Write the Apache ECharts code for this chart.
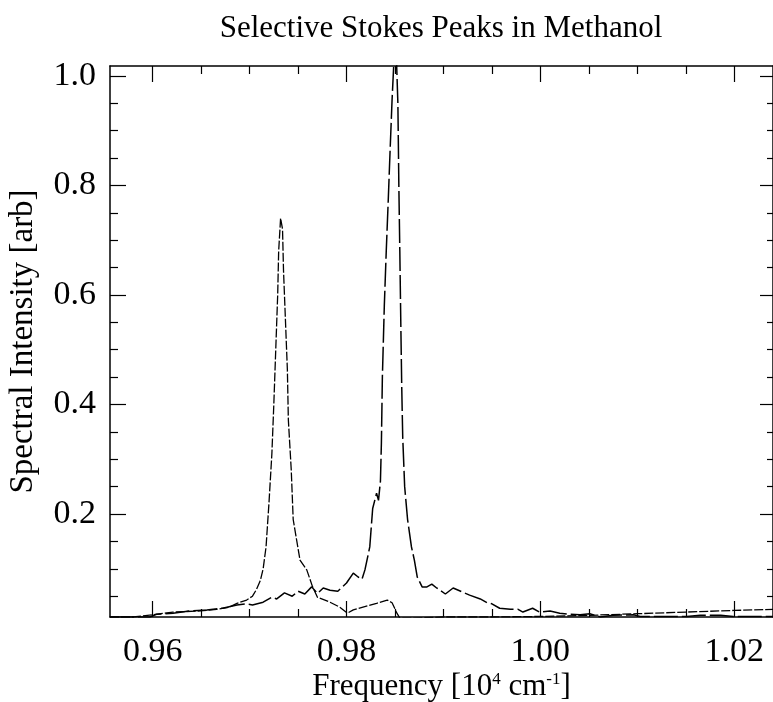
<!DOCTYPE html>
<html lang="en">

<head>
  <meta charset="UTF-8">
  <title>Selective Stokes Peaks in Methanol</title>
  <script src="https://cdn.jsdelivr.net/npm/echarts@6/dist/echarts.min.js"></script>
  <style>
    body { margin: 0; background: #fff; }
  </style>
</head>

<body>
  <div id="main" style="width: 773px;height:702px;"></div>

  <script>
    // left peak (short dashes)
    let freqA = [0.9556, 0.9580, 0.9600, 0.9621, 0.9649, 0.9666, 0.9679, 0.9687, 0.9697, 0.9703, 0.9707, 0.9711,
      0.9714, 0.9717, 0.9720, 0.9723, 0.9725, 0.9727, 0.9729, 0.9730, 0.9732, 0.9734, 0.9735, 0.9737, 0.9739,
      0.9740, 0.9743, 0.9745, 0.9752, 0.9759, 0.9765, 0.9770, 0.9783, 0.9793, 0.9801, 0.9807, 0.9817, 0.9831,
      0.9842, 0.9847, 0.9852, 0.9855, 0.9870, 0.9900, 0.9950, 1.0000, 1.0050, 1.0100, 1.0150, 1.0200, 1.0240];
    let intA = [0.012, 0.012, 0.016, 0.021, 0.023, 0.026, 0.030, 0.037, 0.043, 0.050, 0.062, 0.078,
      0.10, 0.14, 0.22, 0.31, 0.40, 0.50, 0.60, 0.68, 0.74, 0.72, 0.645, 0.554, 0.463,
      0.372, 0.28, 0.19, 0.116, 0.098, 0.067, 0.048, 0.039, 0.030, 0.019, 0.025, 0.030, 0.037,
      0.043, 0.038, 0.019, 0.010, 0.010, 0.012, 0.012, 0.013, 0.015, 0.018, 0.021, 0.024, 0.026];

    // right peak (long dashes)
    let freqB = [0.9556, 0.9597, 0.9604, 0.9621, 0.9638, 0.9656, 0.9672, 0.9687, 0.9697, 0.9703, 0.9714, 0.9723,
      0.9728, 0.9736, 0.9744, 0.9750, 0.9757, 0.9764, 0.9770, 0.9776, 0.9783, 0.9791, 0.9800, 0.9807, 0.9812,
      0.9816, 0.9819, 0.9824, 0.9827, 0.9831, 0.9833, 0.9835, 0.9836, 0.9837, 0.9839, 0.9841, 0.9843, 0.9845,
      0.9847, 0.9849, 0.9851, 0.9853, 0.9854, 0.9855, 0.9856, 0.9857, 0.9858, 0.9860, 0.9863, 0.9867, 0.9870,
      0.9873, 0.9878, 0.9883, 0.9888, 0.9893, 0.9902, 0.9910, 0.9919, 0.9927, 0.9938, 0.9945, 0.9950, 0.9958,
      0.9969, 0.9977, 0.9982, 0.9992, 0.9999, 1.0010, 1.0020, 1.0031, 1.0041, 1.0051, 1.0062, 1.0075, 1.0096,
      1.0103, 1.0131, 1.0151, 1.0165, 1.0186, 1.0199, 1.0240];
    let intB = [0.012, 0.012, 0.017, 0.019, 0.023, 0.025, 0.028, 0.034, 0.036, 0.034, 0.039, 0.048,
      0.045, 0.056, 0.050, 0.059, 0.054, 0.067, 0.055, 0.065, 0.061, 0.059, 0.074, 0.092, 0.085,
      0.081, 0.098, 0.14, 0.21, 0.238, 0.225, 0.26, 0.33, 0.45, 0.58, 0.68, 0.77, 0.865,
      0.956, 1.03, 1.06, 0.95, 0.80, 0.68, 0.55, 0.43, 0.34, 0.25, 0.19, 0.14, 0.116,
      0.085, 0.067, 0.067, 0.072, 0.065, 0.054, 0.065, 0.058, 0.052, 0.045, 0.038, 0.036, 0.028,
      0.026, 0.026, 0.021, 0.028, 0.021, 0.023, 0.019, 0.017, 0.016, 0.018, 0.012, 0.015, 0.016,
      0.013, 0.013, 0.013, 0.015, 0.015, 0.013, 0.013];

    let xMajor = [0.96, 0.98, 1.00, 1.02];
    let xMinor = [0.965, 0.97, 0.975, 0.985, 0.99, 0.995, 1.005, 1.01, 1.015];
    let yMajor = [0.2, 0.4, 0.6, 0.8, 1.0];
    let yMinor = [0.05, 0.1, 0.15, 0.25, 0.3, 0.35, 0.45, 0.5, 0.55, 0.65, 0.7, 0.75, 0.85, 0.9, 0.95];

    let serif = 'Liberation Serif';
    let black = '#000';

    function pairs(xs, ys) {
      return xs.map(function (x, i) { return [x, ys[i]]; });
    }

    function tickAxis(pos, vals, len, showLine, isX) {
      let ax = {
        type: 'value',
        position: pos,
        min: isX ? 0.9556 : 0.012,
        max: isX ? 1.024 : 1.018,
        axisLine: { show: showLine, lineStyle: { color: black, width: 1.5 } },
        axisTick: { show: true, inside: true, length: len, customValues: vals, lineStyle: { color: black, width: 1.2 } },
        axisLabel: { show: false },
        splitLine: { show: false }
      };
      return ax;
    }

    var myChart = echarts.init(document.getElementById('main'));

    let xMain = tickAxis('bottom', xMajor, 16, true, true);
    xMain.axisLabel = {
      show: true,
      customValues: xMajor,
      margin: 18,
      color: black,
      fontFamily: serif,
      fontSize: 34,
      formatter: function (v) { return v.toFixed(2); }
    };
    xMain.name = 'Frequency [10{sup|4} cm{sup|-1}]';
    xMain.nameLocation = 'middle';
    xMain.nameGap = 54;
    xMain.nameMoveOverlap = false;
    xMain.nameTextStyle = {
      color: black,
      fontFamily: serif,
      fontSize: 31,
      rich: {
        sup: { fontFamily: serif, fontSize: 17, verticalAlign: 'top', color: black }
      }
    };

    let yMain = tickAxis('left', yMajor, 16, true, false);
    yMain.axisLabel = {
      show: true,
      customValues: yMajor,
      margin: 14,
      color: black,
      fontFamily: serif,
      fontSize: 34,
      formatter: function (v) { return v.toFixed(1); }
    };
    yMain.name = 'Spectral Intensity [arb]';
    yMain.nameLocation = 'middle';
    yMain.nameGap = 70;
    yMain.nameMoveOverlap = false;
    yMain.nameTextStyle = { color: black, fontFamily: serif, fontSize: 33 };

    option = {
      animation: false,
      backgroundColor: '#fff',
      title: {
        text: 'Selective Stokes Peaks in Methanol',
        left: 436,
        textAlign: 'center',
        top: 8,
        textStyle: { color: black, fontFamily: serif, fontSize: 31, fontWeight: 'normal' }
      },
      grid: { left: 110, right: 0, top: 66, bottom: 85, outerBoundsMode: 'none' },
      xAxis: [
        xMain,
        tickAxis('bottom', xMinor, 8, false, true),
        tickAxis('top', xMajor, 16, true, true),
        tickAxis('top', xMinor, 8, false, true)
      ],
      yAxis: [
        yMain,
        tickAxis('left', yMinor, 8, false, false),
        tickAxis('right', yMajor, 13, true, false),
        tickAxis('right', yMinor, 6, false, false)
      ],
      series: [{
        name: 'peak A',
        type: 'line',
        xAxisIndex: 0,
        yAxisIndex: 0,
        symbol: 'none',
        clip: true,
        lineStyle: { color: black, width: 1.3, type: [9, 2] },
        data: pairs(freqA, intA)
      }, {
        name: 'peak B',
        type: 'line',
        xAxisIndex: 0,
        yAxisIndex: 0,
        symbol: 'none',
        clip: true,
        lineStyle: { color: black, width: 1.5, type: [24, 4] },
        data: pairs(freqB, intB)
      }]
    };

    myChart.setOption(option);
  </script>
</body>

</html>
